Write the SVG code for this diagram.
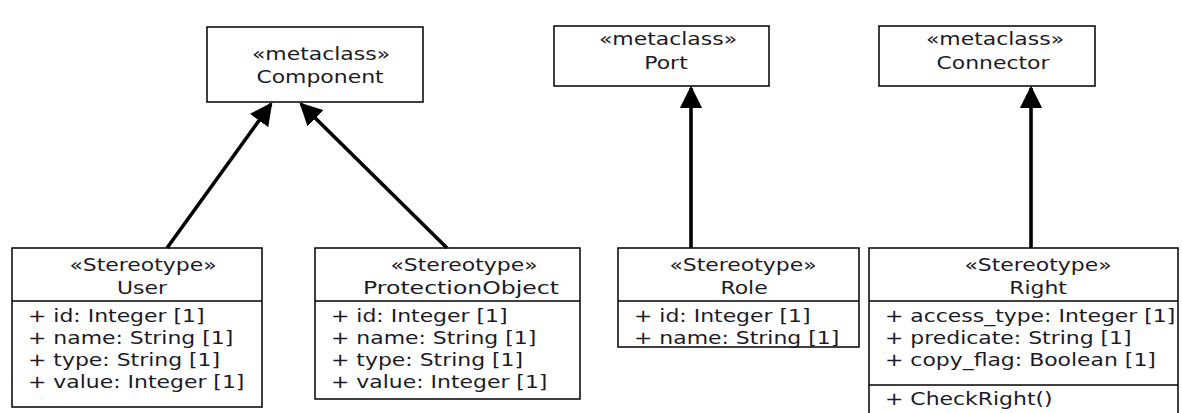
<svg xmlns="http://www.w3.org/2000/svg" width="1182" height="413" viewBox="0 0 1182 413">
  <style>
    .box { fill: #ffffff; stroke: #000000; stroke-width: 1.5; }
    .sep { stroke: #000000; stroke-width: 1.5; }
    .t { font-family: "DejaVu Sans", "Open Sans", sans-serif; font-size: 17px; fill: #1c1a26; }
    .c { text-anchor: middle; }
    .edge { stroke: #000000; stroke-width: 3.6; fill: none; marker-end: url(#tri); }
  </style>
  <defs>
    <marker id="tri" viewBox="0 0 10 10" refX="9" refY="5" markerWidth="6.3" markerHeight="6.3" markerUnits="strokeWidth" orient="auto">
      <path d="M0,0 L10,5 L0,10 Z" fill="#000000"/>
    </marker>
  </defs>
  <rect width="1182" height="413" fill="#ffffff"/>

  <!-- metaclasses (text is drawn 1.29x wide) -->
  <g id="component">
    <rect class="box" x="207" y="27" width="216" height="75"/>
    <text class="t c" transform="matrix(1.29 0 0 1 321 60)">«metaclass»</text>
    <text class="t c" transform="matrix(1.29 0 0 1 320 83)">Component</text>
  </g>
  <g id="port">
    <rect class="box" x="554" y="26" width="215" height="60"/>
    <text class="t c" transform="matrix(1.29 0 0 1 668 45)">«metaclass»</text>
    <text class="t c" transform="matrix(1.29 0 0 1 666 69)">Port</text>
  </g>
  <g id="connector">
    <rect class="box" x="879" y="26" width="216" height="60"/>
    <text class="t c" transform="matrix(1.29 0 0 1 995 45)">«metaclass»</text>
    <text class="t c" transform="matrix(1.29 0 0 1 993 69)">Connector</text>
  </g>

  <!-- stereotypes -->
  <g id="user">
    <rect class="box" x="12" y="248" width="250" height="159"/>
    <line class="sep" x1="12" y1="301" x2="262" y2="301"/>
    <text class="t c" transform="matrix(1.29 0 0 1 143 271)">«Stereotype»</text>
    <text class="t c" transform="matrix(1.29 0 0 1 142 294)">User</text>
    <text class="t" transform="matrix(1.29 0 0 1 28 322)">+ id: Integer [1]</text>
    <text class="t" transform="matrix(1.29 0 0 1 28 344)">+ name: String [1]</text>
    <text class="t" transform="matrix(1.29 0 0 1 28 366)">+ type: String [1]</text>
    <text class="t" transform="matrix(1.29 0 0 1 28 388)">+ value: Integer [1]</text>
  </g>
  <g id="protectionobject">
    <rect class="box" x="315" y="248" width="265" height="151"/>
    <line class="sep" x1="315" y1="301" x2="580" y2="301"/>
    <text class="t c" transform="matrix(1.29 0 0 1 464 271)">«Stereotype»</text>
    <text class="t c" transform="matrix(1.29 0 0 1 461 294)" textLength="152" lengthAdjust="spacingAndGlyphs">ProtectionObject</text>
    <text class="t" transform="matrix(1.29 0 0 1 331 322)">+ id: Integer [1]</text>
    <text class="t" transform="matrix(1.29 0 0 1 331 344)">+ name: String [1]</text>
    <text class="t" transform="matrix(1.29 0 0 1 331 366)">+ type: String [1]</text>
    <text class="t" transform="matrix(1.29 0 0 1 331 388)">+ value: Integer [1]</text>
  </g>
  <g id="role">
    <rect class="box" x="618" y="248" width="241" height="99"/>
    <line class="sep" x1="618" y1="301" x2="859" y2="301"/>
    <text class="t c" transform="matrix(1.29 0 0 1 743 271)">«Stereotype»</text>
    <text class="t c" transform="matrix(1.29 0 0 1 744 294)">Role</text>
    <text class="t" transform="matrix(1.29 0 0 1 634 322)">+ id: Integer [1]</text>
    <text class="t" transform="matrix(1.29 0 0 1 634 344)">+ name: String [1]</text>
  </g>
  <g id="right">
    <rect class="box" x="869" y="248" width="309" height="180"/>
    <line class="sep" x1="869" y1="301" x2="1178" y2="301"/>
    <line class="sep" x1="869" y1="385" x2="1178" y2="385"/>
    <text class="t c" transform="matrix(1.29 0 0 1 1038 271)">«Stereotype»</text>
    <text class="t c" transform="matrix(1.29 0 0 1 1038 294)">Right</text>
    <text class="t" transform="matrix(1.29 0 0 1 885 322)">+ access_type: Integer [1]</text>
    <text class="t" transform="matrix(1.29 0 0 1 885 344)">+ predicate: String [1]</text>
    <text class="t" transform="matrix(1.29 0 0 1 885 366)">+ copy_flag: Boolean [1]</text>
    <text class="t" transform="matrix(1.29 0 0 1 885 405)">+ CheckRight()</text>
  </g>

  <!-- extension connectors -->
  <g id="connectors">
    <line class="edge" x1="167" y1="248" x2="271" y2="104"/>
    <line class="edge" x1="447" y1="248" x2="301" y2="104"/>
    <line class="edge" x1="691" y1="248" x2="691" y2="88"/>
    <line class="edge" x1="1031" y1="248" x2="1031" y2="88"/>
  </g>
</svg>
